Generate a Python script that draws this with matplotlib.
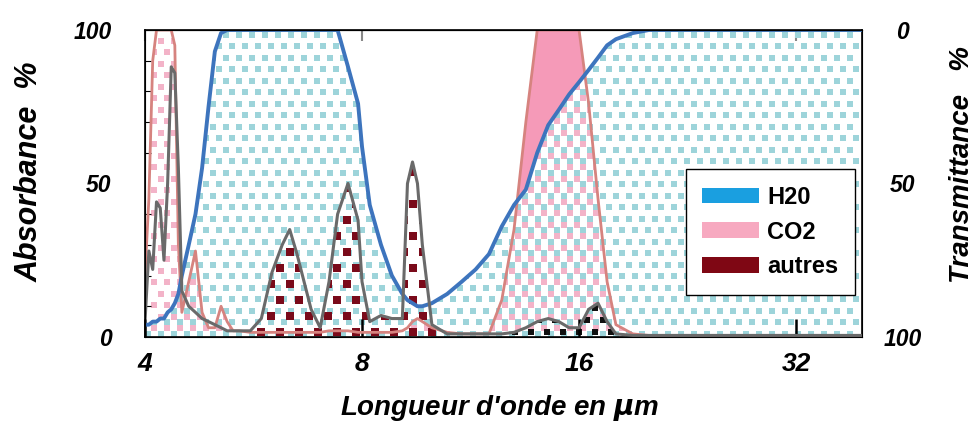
import matplotlib
matplotlib.use('Agg')
import matplotlib.pyplot as plt
import numpy as np
from matplotlib.path import Path
from matplotlib.patches import Patch

# longueur d'onde (um) et absorbance (%)
lam = [4.0, 4.05, 4.1, 4.15, 4.2, 4.25, 4.3, 4.35, 4.4, 4.45, 4.5, 4.6, 4.7, 4.8, 4.9,
       5.0, 5.1, 5.2, 5.3, 5.4, 5.6, 5.8, 6.0, 6.2, 6.35, 6.5, 6.8, 7.0, 7.2, 7.4, 7.65,
       7.9, 8.0, 8.2, 8.5, 8.8, 9.1, 9.25, 9.4, 9.55, 9.7, 10.0, 10.5, 11.0, 11.5, 12.0,
       12.5, 13.0, 13.5, 14.0, 14.5, 15.0, 15.5, 16.0, 16.5, 17.0, 17.5, 18.0, 19.0,
       20.0, 22.0, 25.0, 30.0, 35.0, 39.5]
h2o = [4, 4, 5, 5, 6, 6, 8, 9, 11, 14, 20, 30, 40, 55, 75,
       93, 99, 100, 100, 100, 100, 100, 100, 100, 100, 100, 100, 100, 100, 100, 88,
       76, 62, 43, 30, 20, 14, 12, 11, 10, 10, 11, 14, 18, 22, 27,
       36, 43, 48, 60, 69, 74, 79, 83, 87, 91, 95, 97, 99,
       100, 100, 100, 100, 100, 100]
co2 = [20, 45, 90, 100, 100, 100, 100, 100, 95, 30, 8, 18, 28, 8, 3,
       3, 10, 5, 2, 2, 1.5, 1.5, 1.5, 1.5, 1.5, 1.5, 1.5, 1.5, 2, 2, 2,
       1.5, 1.5, 1.5, 1.5, 1.5, 2, 3, 5, 6, 5, 3, 1.5, 1, 1, 1,
       12, 35, 70, 100, 100, 100, 100, 100, 76, 45, 18, 4, 1,
       0.5, 0.5, 0.5, 0.5, 0.5, 0.5]
autres = [5, 28, 22, 44, 42, 25, 50, 88, 86, 55, 15, 10, 8, 6, 5,
          4, 3, 2, 2, 2, 2, 6, 21, 30, 35, 27, 9, 3, 18, 40, 50,
          38, 18, 5, 7, 6, 6, 50, 57, 50, 30, 4, 1, 1, 1, 1,
          1, 1.5, 3, 5, 6, 5, 3, 3, 9, 11, 5, 1, 0.5,
          0.5, 0.5, 0.5, 0.5, 0.5, 0.5]

xticks = [4, 8, 16, 32]
legend_labels = ['H20', 'CO2', 'autres']

lam = np.array(lam)
h2o = np.array(h2o)
co2 = np.array(co2)
autres = np.array(autres)

plt.rcParams['font.family'] = ['Liberation Sans', 'DejaVu Sans']
plt.rcParams['font.weight'] = 'bold'
plt.rcParams['font.style'] = 'italic'

fig = plt.figure(figsize=(9.75, 4.32), dpi=100, facecolor='w')
ax = fig.add_axes([0.1487, 0.22, 0.7354, 0.7106])
ax.set_xscale('log', base=2)
ax.set_xlim(4, 39.5)
ax.set_ylim(0, 100)


def dots(poly, dx, dy, ox, oy, color, size, z):
  # motif de carres, coupe par la zone remplie
  xs = np.arange(ox, 1, dx)
  ys = np.arange(oy, 1, dy)
  gx, gy = np.meshgrid(xs, ys)
  gx = gx + (np.arange(len(ys))[:, None] % 2) * dx / 2
  sc = ax.scatter(gx.ravel(), gy.ravel(), marker='s', s=size, c=color, lw=0,
                  transform=ax.transAxes, zorder=z)
  path = Path.make_compound_path(*poly.get_paths())
  sc.set_clip_path(path, ax.transData)


p_h2o = ax.fill_between(lam, 0, h2o, facecolor='none', edgecolor='none', lw=0)
dots(p_h2o, 13 / 717, 11.5 / 307, 0.004, 0.01, '#9dd4da', 15, 1)
p_co2 = ax.fill_between(lam, 0, co2, facecolor='none', edgecolor='none', lw=0)
dots(p_co2, 13 / 717, 11.5 / 307, 0.004 + 6.5 / 717, 0.01 + 5.75 / 307, '#f3b3c8', 15, 1.1)

ax.fill_between(lam, h2o, co2, where=(co2 > h2o) & (lam > 12), interpolate=True,
                facecolor='#f59ab8', edgecolor='none', zorder=2)

p_aut = ax.fill_between(lam, 0, autres, where=(lam > 5.5) & (lam < 11),
                        facecolor='none', edgecolor='none', lw=0)
dots(p_aut, 19 / 717, 16 / 307, 0.003, 0.015, '#7a0a1a', 30, 1.5)
p_aut2 = ax.fill_between(lam, 0, autres, where=(lam > 12), facecolor='none',
                         edgecolor='none', lw=0)
dots(p_aut2, 16 / 717, 12 / 307, 0.003, 0.015, '#111111', 24, 1.5)

ax.plot(lam, co2, color='#d6837f', lw=2, zorder=3)
ax.plot(lam, autres, color='#6a6a6a', lw=2.2, zorder=3.2)
ax.plot(lam, h2o, color='#3d74bd', lw=2.8, zorder=3.1)

ax.set_xticks(xticks)
ax.set_xticklabels([str(t) for t in xticks])
ax.xaxis.set_minor_locator(matplotlib.ticker.NullLocator())
ax.tick_params(axis='x', which='major', direction='in', length=13, width=1.8,
               labelsize=19, pad=11)
ax.set_yticks([0, 50, 100])
ax.set_yticks(np.arange(10, 100, 10), minor=True)
ax.tick_params(axis='y', which='major', direction='in', length=0, labelsize=16.5, pad=24)
ax.tick_params(axis='y', which='minor', direction='in', length=4, width=0.8, right=True)
for s in ax.spines.values():
  s.set_linewidth(1.2)

top = ax.secondary_xaxis('top')
top.set_xticks(xticks)
top.xaxis.set_minor_locator(matplotlib.ticker.NullLocator())
top.tick_params(direction='in', length=8, width=1.5, color='#888888', labeltop=False)

ax2 = ax.twinx()
ax2.set_ylim(100, 0)
ax2.set_yticks([0, 50, 100])
ax2.tick_params(axis='y', direction='in', length=0, labelsize=16.5, pad=29)
for lb in ax2.get_yticklabels():
  lb.set_ha('center')

fig.text(30 / 975, 1 - 172 / 432, 'Absorbance  %', rotation=90, fontsize=22,
         ha='center', va='center')
fig.text(962 / 975, 1 - 165 / 432, 'Transmittance   %', rotation=90, fontsize=20,
         ha='center', va='center')
fig.text(500 / 975, 1 - 408 / 432, "Longueur d'onde en $\\mu$m", fontsize=20,
         ha='center', va='center')

handles = [Patch(facecolor='#1a9fe0'), Patch(facecolor='#f7a9c0'), Patch(facecolor='#7f0714')]
leg = ax.legend(handles, legend_labels, loc='lower right', bbox_to_anchor=(0.99, 0.137),
                borderaxespad=0, prop={'size': 17, 'weight': 'bold', 'style': 'normal'},
                handlelength=2.4, handleheight=0.65, handletextpad=0.35,
                labelspacing=0.5, borderpad=0.7, fancybox=False, framealpha=1,
                edgecolor='black')
leg.get_frame().set_linewidth(1.0)
leg.set_zorder(5)

fig.savefig('out.png', dpi=100)
